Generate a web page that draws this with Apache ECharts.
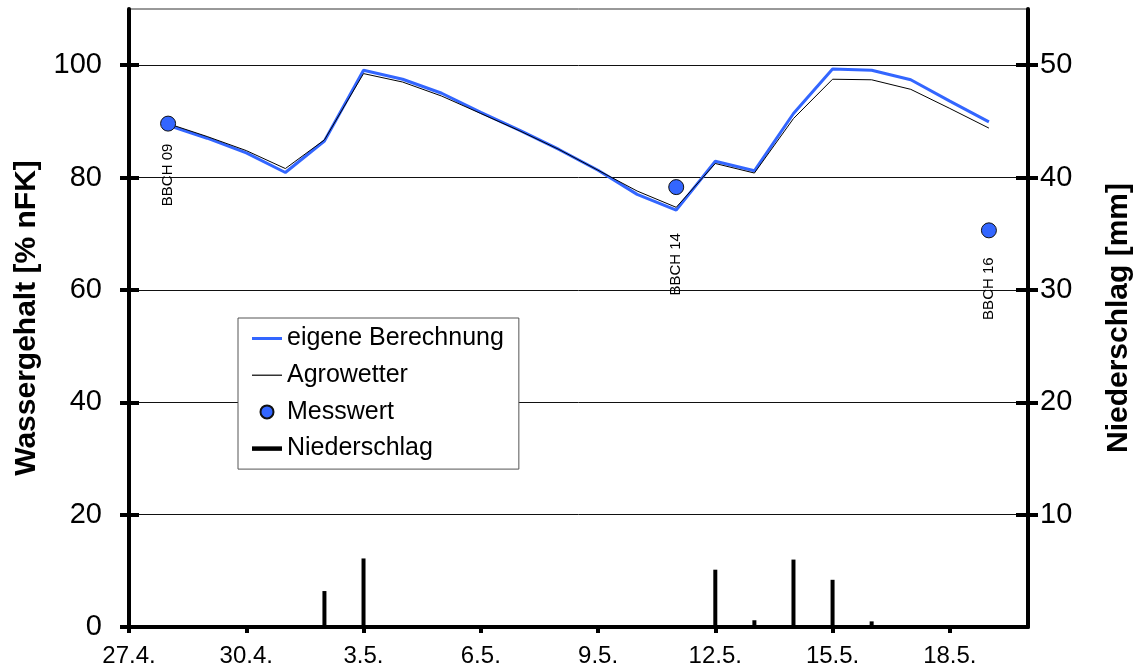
<!DOCTYPE html>
<html>
<head>
<meta charset="utf-8">
<script src="https://cdn.jsdelivr.net/npm/echarts@6/dist/echarts.min.js"></script>
<style>
  html, body { margin: 0; padding: 0; background: #fff; }
  #chart { width: 1142px; height: 671px; }
</style>
</head>
<body>
<div id="chart"></div>
<script>
// Days from 27.4. to 20.5.; the x axis runs over the day index
const days = ['27.4.','28.4.','29.4.','30.4.','1.5.','2.5.','3.5.','4.5.','5.5.','6.5.','7.5.','8.5.',
              '9.5.','10.5.','11.5.','12.5.','13.5.','14.5.','15.5.','16.5.','17.5.','18.5.','19.5.','20.5.'];

// Soil water content in % of usable field capacity (left axis)
const eigeneBerechnung = [null, 89.3, 87.0, 84.4, 80.9, 86.5, 99.1, 97.5, 95.0, 91.6, 88.4, 85.0,
                          81.3, 77.0, 74.2, 82.9, 81.2, 91.4, 99.3, 99.1, 97.4, 93.6, 89.9, null];
const agrowetter       = [null, 89.6, 87.3, 84.8, 81.6, 86.7, 98.5, 97.0, 94.5, 91.4, 88.3, 85.0,
                          81.3, 77.6, 74.7, 82.5, 80.8, 90.5, 97.5, 97.4, 95.7, 92.3, 88.8, null];

// Measured values and growth stage at each sampling day
const messDays = [1, 14, 22];
const messwert = [89.6, 78.3, 70.6];
const bbch = ['BBCH 09', 'BBCH 14', 'BBCH 16'];

// Daily precipitation in mm (right axis)
const niederschlag = [0, 0, 0, 0, 0, 3.2, 6.1, 0, 0, 0, 0, 0,
                      0, 0, 0, 5.1, 0.6, 6.0, 4.2, 0.5, 0, 0, 0, 0];

// Tick positions
const xTicks = [0, 3, 6, 9, 12, 15, 18, 21];
const leftTicks = [0, 20, 40, 60, 80, 100];
const rightTicks = [10, 20, 30, 40, 50];

// gap between each measurement dot and its stage label
const labelDistance = [12, 38, 19];

const FONT = "'Liberation Sans', Arial, sans-serif";
const BLUE = '#3366FF';

const toPairs = arr => arr.map((v, i) => (v == null ? null : [i, v])).filter(p => p);

// legend swatches: horizontal strokes of a given thickness inside a 30x13 box
const strokeIcon = t => {
  const y0 = (13 - t) / 2, y1 = y0 + t;
  return 'path://M0,0L0,0M0,13L0,13M0,' + y0 + 'L30,' + y0 + 'L30,' + y1 + 'L0,' + y1 + 'Z';
};

const chart = echarts.init(document.getElementById('chart'), null, { renderer: 'canvas' });

const tickStyle = { color: '#000', width: 4 };

chart.setOption({
  animation: false,
  backgroundColor: '#fff',
  textStyle: { fontFamily: FONT },
  grid: {
    left: 129, right: 112, top: 9, bottom: 44,
    show: true, borderColor: '#333', borderWidth: 1, backgroundColor: 'transparent'
  },
  legend: {
    orient: 'vertical',
    left: 238, top: 318,
    padding: [8, 15, 8, 14],
    backgroundColor: '#fff',
    borderColor: '#555', borderWidth: 1, borderRadius: 0,
    itemWidth: 30, itemHeight: 13, itemGap: 11.7,
    textStyle: { fontFamily: FONT, fontSize: 25, color: '#000', lineHeight: 25 },
    data: [
      { name: 'eigene Berechnung', icon: strokeIcon(3), itemStyle: { color: BLUE, borderWidth: 0 } },
      { name: 'Agrowetter', icon: strokeIcon(1.2), itemStyle: { color: '#000', borderWidth: 0 } },
      { name: 'Messwert', icon: 'circle' },
      { name: 'Niederschlag', icon: strokeIcon(4.5), itemStyle: { color: '#000', borderWidth: 0 } }
    ]
  },
  xAxis: {
    type: 'value', min: 0, max: 23, interval: 3,
    axisLine: { lineStyle: { color: '#000', width: 4 } },
    axisTick: { length: 6, lineStyle: tickStyle, customValues: xTicks },
    axisLabel: {
      customValues: xTicks, formatter: v => days[v],
      fontFamily: FONT, fontSize: 24, color: '#000', margin: 17
    },
    splitLine: { show: false }
  },
  yAxis: [
    {
      type: 'value', position: 'left', min: 0, max: 110, interval: 20,
      name: 'Wassergehalt [% nFK]', nameLocation: 'middle', nameGap: 87, nameRotate: 90,
      nameTextStyle: { fontFamily: FONT, fontSize: 30, fontWeight: 'bold', color: '#000' },
      axisLine: { show: true, lineStyle: { color: '#000', width: 4 } },
      axisTick: { show: true, length: 9, lineStyle: tickStyle, customValues: leftTicks },
      axisLabel: { customValues: leftTicks, fontFamily: FONT, fontSize: 29, color: '#000', margin: 27 },
      splitLine: { show: true, lineStyle: { color: '#111', width: 1 } }
    },
    {
      type: 'value', position: 'right', min: 0, max: 55, interval: 10,
      name: 'Niederschlag [mm]', nameLocation: 'middle', nameGap: 76, nameRotate: 90,
      nameTextStyle: { fontFamily: FONT, fontSize: 30, fontWeight: 'bold', color: '#000' },
      axisLine: { show: true, lineStyle: { color: '#000', width: 4 } },
      axisTick: { show: true, length: 10, lineStyle: tickStyle, customValues: rightTicks },
      axisLabel: { customValues: rightTicks, fontFamily: FONT, fontSize: 29, color: '#000', margin: 12 },
      splitLine: { show: false }
    },
    // inner halves of the crossing tick marks
    {
      type: 'value', position: 'left', min: 0, max: 110, interval: 20,
      axisLine: { show: false },
      axisTick: { show: true, inside: true, length: 10, lineStyle: tickStyle, customValues: leftTicks },
      axisLabel: { show: false },
      splitLine: { show: false }
    },
    {
      type: 'value', position: 'right', min: 0, max: 55, interval: 10,
      axisLine: { show: false },
      axisTick: { show: true, inside: true, length: 12, lineStyle: tickStyle, customValues: rightTicks },
      axisLabel: { show: false },
      splitLine: { show: false }
    }
  ],
  series: [
    {
      name: 'Niederschlag', type: 'bar', yAxisIndex: 1,
      barWidth: 4, itemStyle: { color: '#000' },
      data: toPairs(niederschlag).filter(p => p[1] > 0),
      z: 2
    },
    {
      name: 'eigene Berechnung', type: 'line', yAxisIndex: 0,
      symbol: 'none', color: BLUE,
      lineStyle: { color: BLUE, width: 3 },
      data: toPairs(eigeneBerechnung),
      z: 3
    },
    {
      name: 'Agrowetter', type: 'line', yAxisIndex: 0,
      symbol: 'none', color: '#000',
      lineStyle: { color: '#000', width: 1 },
      data: toPairs(agrowetter),
      z: 4
    },
    {
      name: 'Messwert', type: 'scatter', yAxisIndex: 0,
      symbol: 'circle', symbolSize: 15,
      itemStyle: { color: BLUE, borderColor: '#111', borderWidth: 1, opacity: 1 },
      label: {
        show: true, position: 'bottom', rotate: 90,
        align: 'right', verticalAlign: 'middle',
        fontFamily: FONT, fontSize: 15, color: '#000'
      },
      data: messDays.map((d, i) => ({
        value: [d, messwert[i]],
        label: { formatter: bbch[i], distance: labelDistance[i] }
      })),
      z: 5
    }
  ]
});
</script>
</body>
</html>
